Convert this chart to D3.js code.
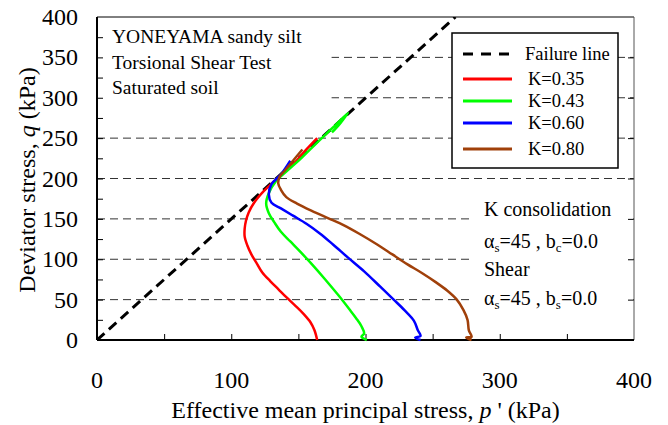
<!DOCTYPE html>
<html>
<head>
<meta charset="utf-8">
<script src="https://cdn.jsdelivr.net/npm/d3@7"></script>
<style>
  body { margin: 0; background: #fff; }
</style>
</head>
<body>
<div id="chart"></div>
<script>
// Stress paths [p', q] in kPa
const failureLine = [[0, 0], [267, 400]];
const pathK035 = [[164, 0], [162, 12], [159, 22], [154, 32], [148, 42], [141, 53], [135, 63], [129, 73],
  [123, 84], [119, 95], [115, 106], [112, 117], [110, 128], [110, 138], [111, 148], [113, 158],
  [117, 170], [124, 184], [131, 195], [139, 207], [148, 221], [156, 236], [164, 250]];
const pathK043 = [[201, 0], [197, 4], [199, 8], [197, 17], [193, 27], [188, 38], [180, 55], [170, 75],
  [160, 94], [151, 110], [144, 122], [137, 134], [132, 146], [128, 157], [126, 169], [128, 182],
  [133, 196], [142, 210], [152, 225], [163, 243], [175, 262], [187, 281], [181, 268], [175, 257]];
const pathK060 = [[241, 0], [237, 3], [241, 5], [239, 12], [236, 24], [229, 37], [221, 50], [211, 66],
  [199, 85], [187, 102], [176, 118], [166, 132], [156, 144], [146, 154], [137, 163], [130, 170],
  [128, 180], [130, 193], [137, 205], [144, 222]];
const pathK080 = [[279, 0], [275, 3], [279, 4], [277, 12], [276, 25], [273, 37], [268, 50], [261, 61],
  [252, 72], [242, 83], [231, 94], [220, 106], [209, 118], [196, 131], [184, 142], [172, 151],
  [160, 160], [149, 169], [141, 177], [137, 186], [135, 194], [136, 202], [140, 210], [146, 222],
  [153, 236]];

const seriesNames = ['K=0.35', 'K=0.43', 'K=0.60', 'K=0.80'];
const seriesColors = ['#ff0000', '#00ff00', '#0000ff', '#a0400a'];
const seriesPaths = [pathK035, pathK043, pathK060, pathK080];

const xTickLabels = [0, 100, 200, 300, 400];
const yTickLabels = [0, 50, 100, 150, 200, 250, 300, 350, 400];
const gridValues = [50, 100, 150, 200, 250, 300, 350];

const notesTopLeft = ['YONEYAMA sandy silt', 'Torsional Shear Test', 'Saturated soil'];

const W = 668, H = 425;
const margin = { top: 17, right: 34, bottom: 85, left: 97 };
const iW = W - margin.left - margin.right;
const iH = H - margin.top - margin.bottom;

const svg = d3.select('#chart').append('svg')
  .attr('width', W).attr('height', H)
  .attr('viewBox', `0 0 ${W} ${H}`)
  .attr('font-family', "'Liberation Serif', 'Times New Roman', 'DejaVu Serif', serif")
  .style('display', 'block');

const g = svg.append('g').attr('transform', `translate(${margin.left},${margin.top})`);

const x = d3.scaleLinear().domain([0, 400]).range([0, iW]);
const y = d3.scaleLinear().domain([0, 400]).range([iH, 0]);

// dashed grid
g.append('g')
  .selectAll('line')
  .data(gridValues)
  .join('line')
  .attr('x1', 0).attr('x2', iW)
  .attr('y1', d => y(d)).attr('y2', d => y(d))
  .attr('stroke', '#333').attr('stroke-width', 1)
  .attr('stroke-dasharray', '8,5');

// white boxes behind the annotations hide the grid
g.append('rect')
  .attr('x', 1).attr('y', 1)
  .attr('width', x(174)).attr('height', y(278))
  .attr('fill', '#fff');
g.append('rect')
  .attr('x', x(280)).attr('y', y(192))
  .attr('width', iW - x(280) - 1).attr('height', y(12) - y(192))
  .attr('fill', '#fff');

// axes: ticks point inward
const styleAxis = ax => {
  ax.select('.domain').remove();
  ax.selectAll('line').attr('stroke', '#000').attr('stroke-width', 1);
};

g.append('g').attr('transform', `translate(0,${iH})`)
  .call(d3.axisBottom(x).tickValues(d3.range(50, 400, 50)).tickSize(-6).tickFormat(''))
  .call(styleAxis);
g.append('g')
  .call(d3.axisLeft(y).tickValues(d3.range(25, 400, 25)).tickSize(-6).tickFormat(''))
  .call(styleAxis);
g.append('g').attr('transform', `translate(${iW},0)`)
  .call(d3.axisRight(y).tickValues(d3.range(50, 400, 50)).tickSize(-6).tickFormat(''))
  .call(styleAxis);

// frame
g.append('line').attr('x1', 0).attr('x2', iW).attr('y1', 0).attr('y2', 0)
  .attr('stroke', '#000').attr('stroke-width', 1);
g.append('line').attr('x1', iW).attr('x2', iW).attr('y1', 0).attr('y2', iH)
  .attr('stroke', '#555').attr('stroke-width', 1);
g.append('line').attr('x1', 0).attr('x2', iW).attr('y1', iH).attr('y2', iH)
  .attr('stroke', '#000').attr('stroke-width', 2);
g.append('line').attr('x1', 0).attr('x2', 0).attr('y1', 0).attr('y2', iH)
  .attr('stroke', '#000').attr('stroke-width', 2);

// tick labels
g.append('g').selectAll('text')
  .data(xTickLabels)
  .join('text')
  .attr('x', d => x(d)).attr('y', iH + 48)
  .attr('text-anchor', 'middle')
  .attr('font-size', '24px')
  .text(d => d);
g.append('g').selectAll('text')
  .data(yTickLabels)
  .join('text')
  .attr('x', -19).attr('y', d => y(d) + 8)
  .attr('text-anchor', 'end')
  .attr('font-size', '24px')
  .text(d => d);

// failure line and stress paths
const line = d3.line().x(d => x(d[0])).y(d => y(d[1])).curve(d3.curveCatmullRom.alpha(0.5));
g.append('clipPath').attr('id', 'plot-clip')
  .append('rect').attr('width', iW).attr('height', iH);

g.append('path')
  .datum(failureLine)
  .attr('d', d3.line().x(d => x(d[0])).y(d => y(d[1])))
  .attr('clip-path', 'url(#plot-clip)')
  .attr('fill', 'none').attr('stroke', '#000')
  .attr('stroke-width', 3).attr('stroke-dasharray', '10,6');

g.selectAll('path.series')
  .data(seriesPaths)
  .join('path')
  .attr('class', 'series')
  .attr('d', line)
  .attr('fill', 'none')
  .attr('stroke', (d, i) => seriesColors[i])
  .attr('stroke-width', 2.5)
  .attr('stroke-linejoin', 'round');

// legend
const lg = svg.append('g').attr('transform', 'translate(452,33)');
lg.append('rect').attr('width', 166).attr('height', 135)
  .attr('fill', '#fff').attr('stroke', '#000').attr('stroke-width', 1.5);
const legendRows = [{ name: 'Failure line', dash: true, color: '#000' }]
  .concat(seriesNames.map((n, i) => ({ name: n, dash: false, color: seriesColors[i] })));
const rowY = [21, 46, 68, 90, 116];
legendRows.forEach((r, i) => {
  lg.append('line')
    .attr('x1', 11).attr('x2', 60).attr('y1', rowY[i]).attr('y2', rowY[i])
    .attr('stroke', r.color).attr('stroke-width', 3)
    .attr('stroke-dasharray', r.dash ? '10,8' : null);
  lg.append('text')
    .attr('x', r.dash ? 73 : 76).attr('y', rowY[i] + 6)
    .attr('font-size', '18.5px')
    .text(r.name);
});

// annotations
svg.append('g').selectAll('text')
  .data(notesTopLeft)
  .join('text')
  .attr('x', 112).attr('y', (d, i) => 43 + i * 25.5)
  .attr('font-size', '19.5px')
  .text(d => d);

const notes = svg.append('g').attr('font-size', '20px');
notes.append('text').attr('x', 484).attr('y', 216).text('K consolidation');
const a1 = notes.append('text').attr('x', 484).attr('y', 248);
a1.append('tspan').text('α');
a1.append('tspan').attr('font-size', '13px').attr('dy', 4).text('s');
a1.append('tspan').attr('dy', -4).text('=45 , b');
a1.append('tspan').attr('font-size', '13px').attr('dy', 4).text('c');
a1.append('tspan').attr('dy', -4).text('=0.0');
notes.append('text').attr('x', 484).attr('y', 276).text('Shear');
const a2 = notes.append('text').attr('x', 484).attr('y', 305);
a2.append('tspan').text('α');
a2.append('tspan').attr('font-size', '13px').attr('dy', 4).text('s');
a2.append('tspan').attr('dy', -4).text('=45 , b');
a2.append('tspan').attr('font-size', '13px').attr('dy', 4).text('s');
a2.append('tspan').attr('dy', -4).text('=0.0');

// axis titles
const xt = svg.append('text')
  .attr('x', margin.left + iW / 2).attr('y', 418)
  .attr('text-anchor', 'middle').attr('font-size', '24px');
xt.append('tspan').text('Effective mean principal stress, ');
xt.append('tspan').attr('font-style', 'italic').text('p');
xt.append('tspan').text(" ' (kPa)");

const yt = svg.append('text')
  .attr('transform', 'translate(35,180) rotate(-90)')
  .attr('text-anchor', 'middle').attr('font-size', '24px');
yt.append('tspan').text('Deviator stress, ');
yt.append('tspan').attr('font-style', 'italic').text('q');
yt.append('tspan').text('  (kPa)');
</script>
</body>
</html>
